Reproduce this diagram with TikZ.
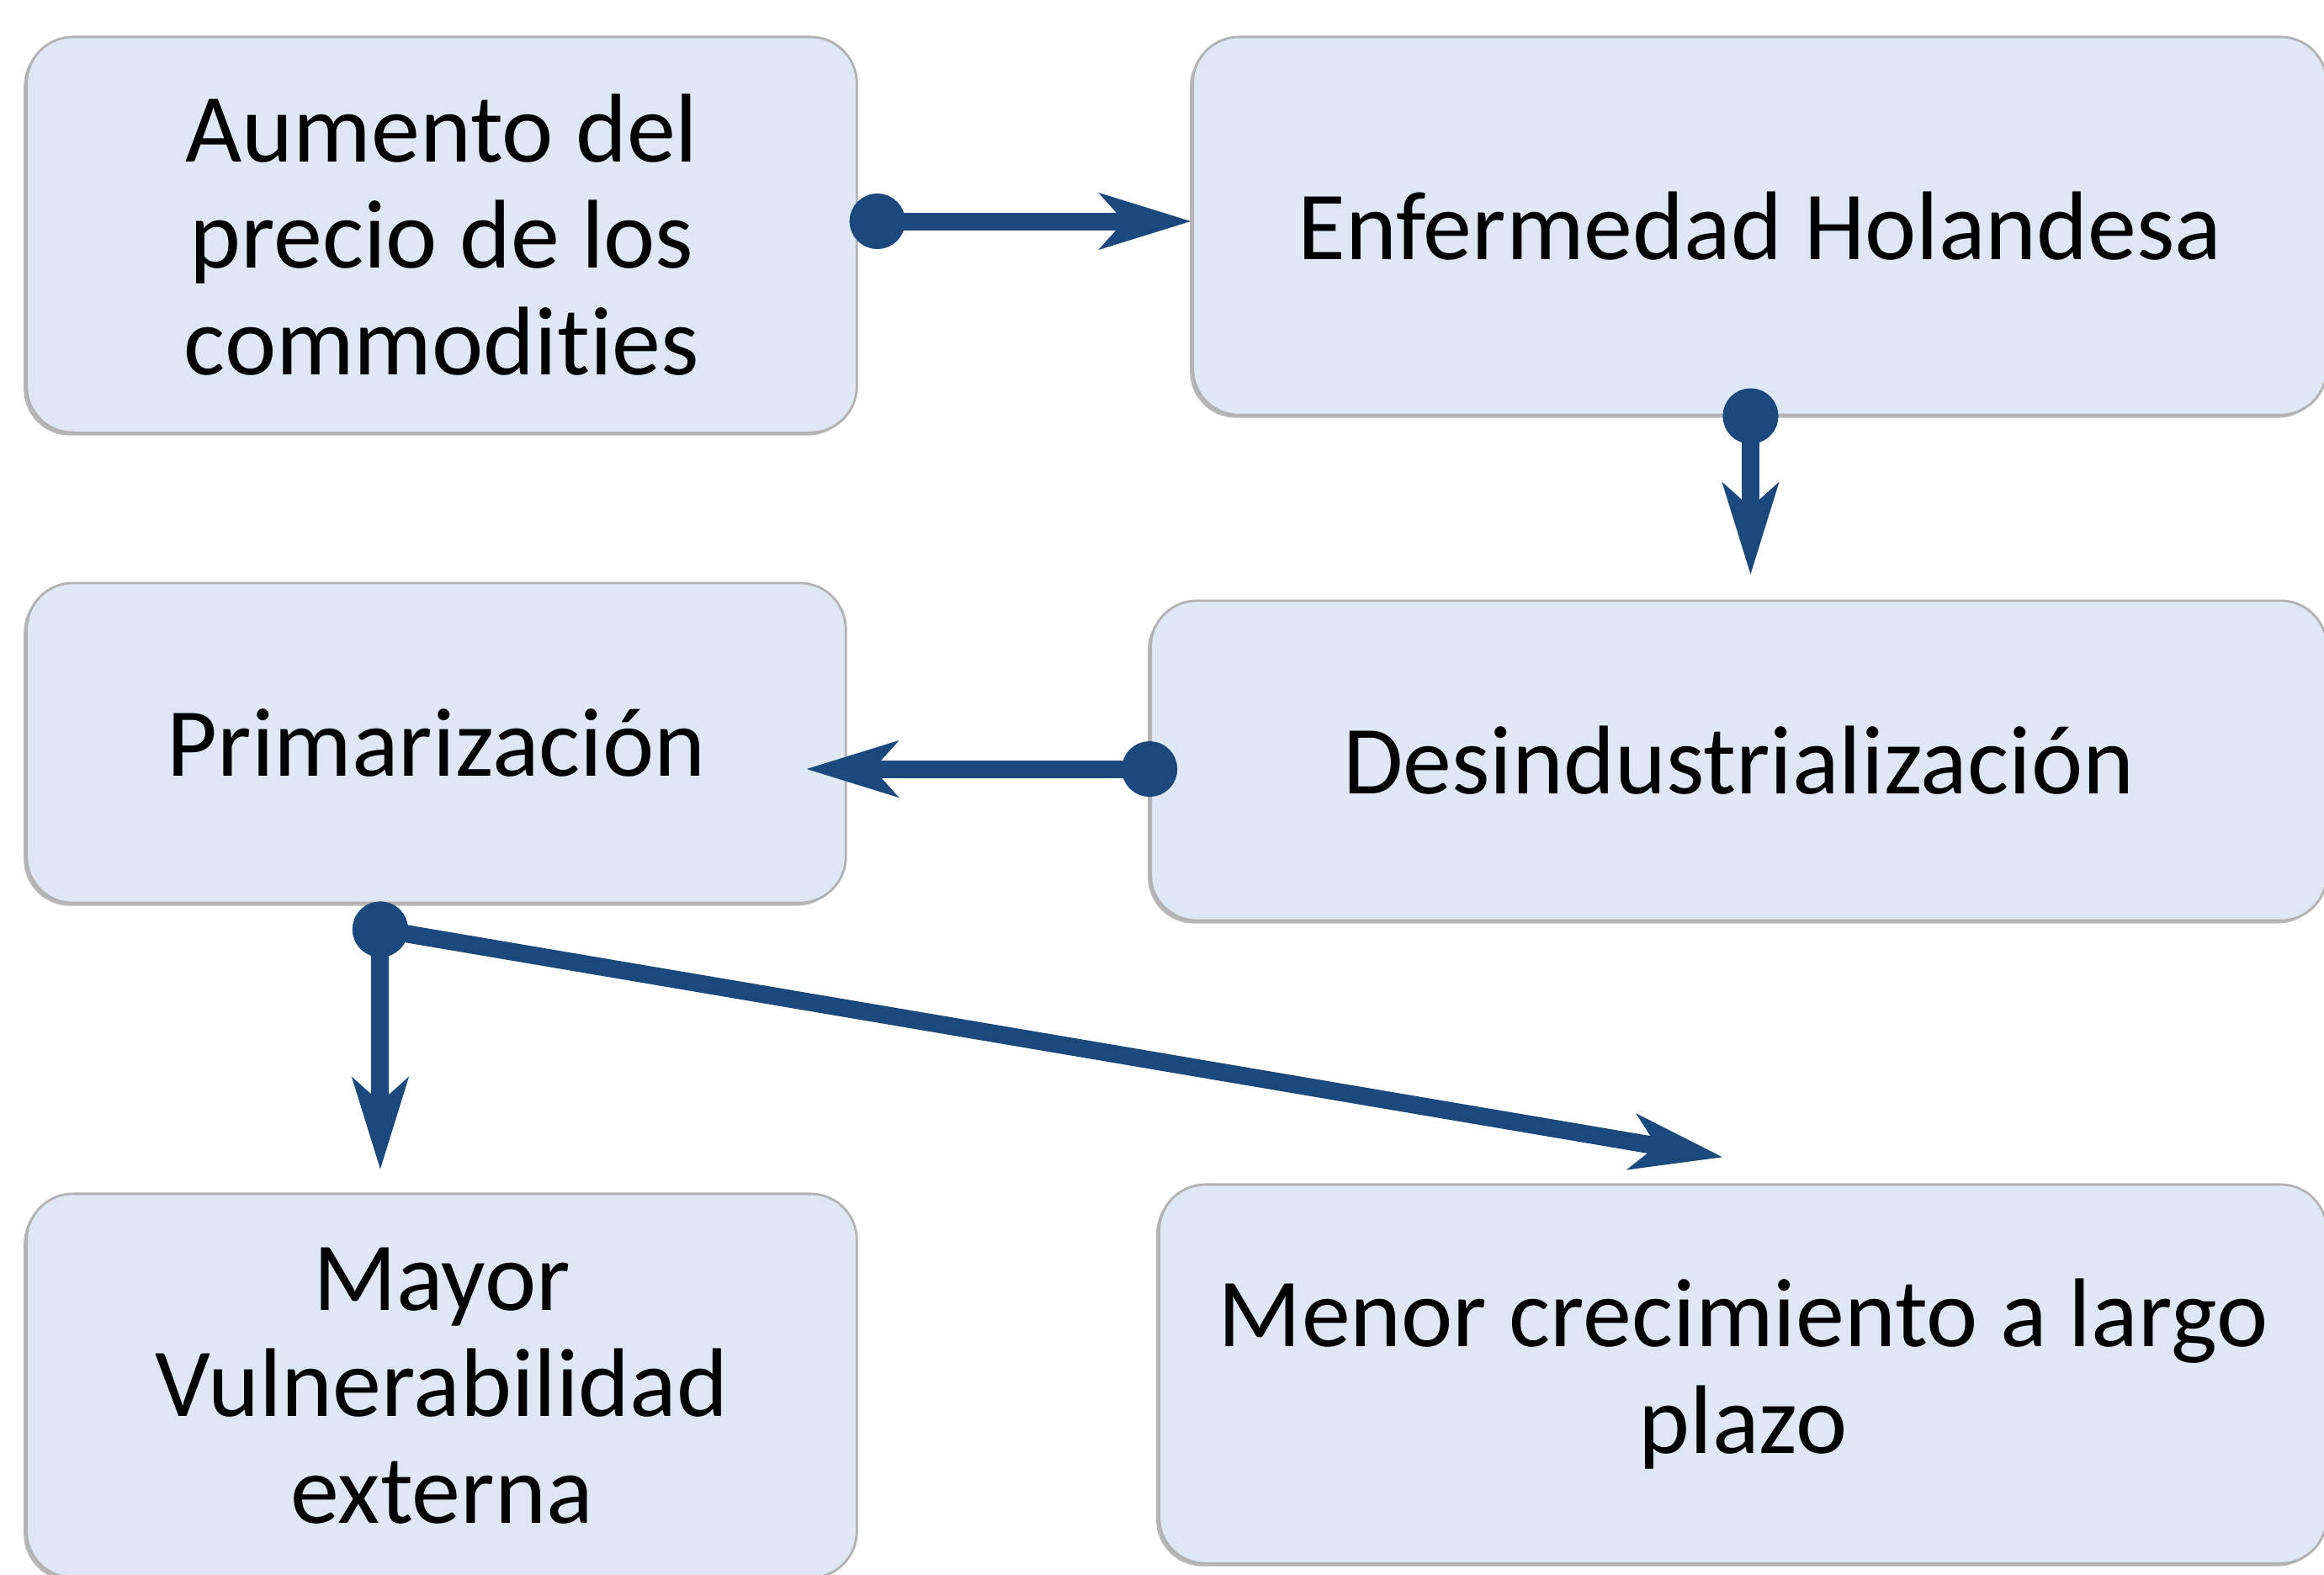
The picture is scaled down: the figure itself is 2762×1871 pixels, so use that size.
\documentclass[tikz,border=0pt]{standalone}
\usepackage{fontspec}
\setmainfont{Carlito}[Ligatures=NoCommon]
\usetikzlibrary{arrows.meta,shadows}

\definecolor{cajaazul}{RGB}{221,232,244}
\definecolor{flechaazul}{RGB}{27,73,125}

\begin{document}
\begin{tikzpicture}[x=0.01cm,y=-0.01cm]
  \tikzstyle{bloque}=[rectangle,rounded corners=0.55cm,fill=cajaazul,draw=black!30,line width=0.8pt,
    align=center,inner sep=0pt,font=\fontsize{33}{36}\selectfont,
    drop shadow={shadow xshift=-0.035cm,shadow yshift=-0.035cm,opacity=0.4,fill=black!70}]
  \tikzstyle{flecha}=[color=flechaazul,line width=0.21cm,shorten <=-0.33cm,
    {Circle[length=0.66cm,fill=flechaazul]}-{Stealth[length=1.08cm,width=0.65cm,inset=0.28cm,fill=flechaazul]}]

  \useasboundingbox (0,0) rectangle (2762,1871);

  \node[bloque,minimum width=9.86cm,minimum height=4.70cm]  (a) at (525,279)    {Aumento del\\precio de los\\commodities};
  \node[bloque,minimum width=13.47cm,minimum height=4.49cm] (b) at (2091.5,268.5) {Enfermedad Holandesa};
  \node[bloque,minimum width=13.97cm,minimum height=3.80cm] (d) at (2066.5,904)  {Desindustrialización};
  \node[bloque,minimum width=9.73cm,minimum height=3.80cm]  (c) at (518.5,883)   {Primarización};
  \node[bloque,minimum width=9.86cm,minimum height=4.56cm]  (e) at (525,1647)    {Mayor\\Vulnerabilidad\\externa};
  \node[bloque,minimum width=13.87cm,minimum height=4.50cm] (f) at (2071.5,1633) {Menor crecimiento a largo\\plazo};

  % puntos de salida de las flechas
  \coordinate (ae) at ([xshift=0.23cm,yshift=0.16cm]a.east);
  \coordinate (bs) at ([xshift=-0.11cm]b.south);
  \coordinate (dw) at ([yshift=-0.1cm]d.west);
  \coordinate (cs) at ([xshift=-0.665cm,yshift=-0.3cm]c.south);
  \coordinate (fn) at ([xshift=-0.235cm,yshift=0.31cm]f.north);

  \draw[flecha] (ae) -- (b.west |- ae);
  \draw[flecha,shorten >=0.29cm] (bs) -- (bs |- d.north);
  \draw[flecha,shorten >=-0.49cm] (dw) -- (c.east |- dw);
  \draw[flecha] (cs) -- (fn);
  \draw[flecha,shorten >=0.27cm] (cs) -- (cs |- e.north);
\end{tikzpicture}
\end{document}
